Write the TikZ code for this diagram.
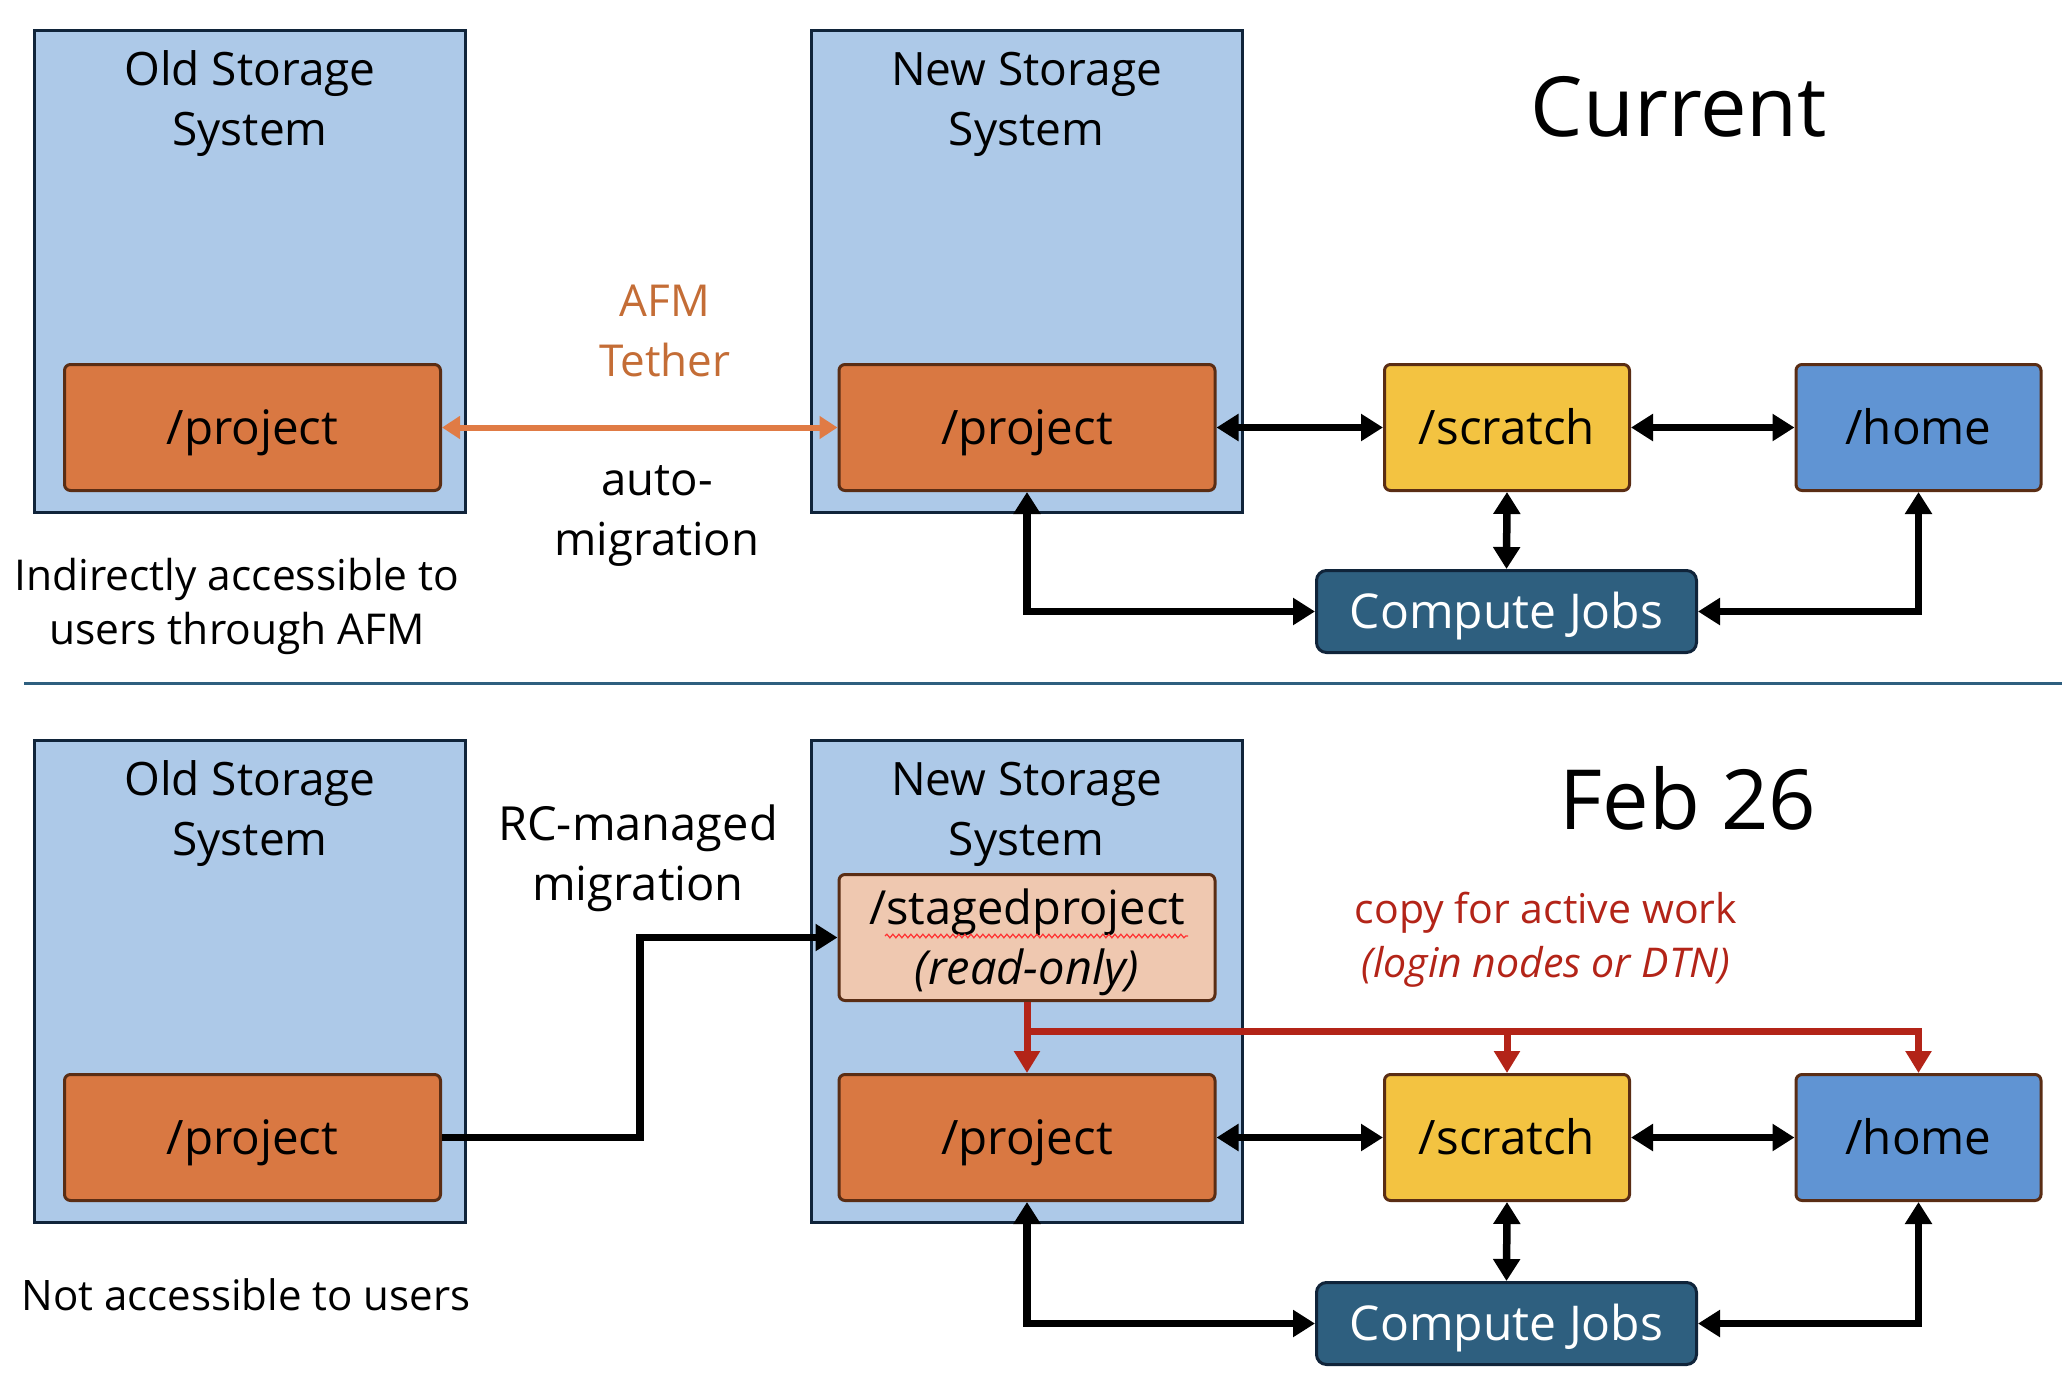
\documentclass[tikz,border=0pt]{standalone}
\usepackage{fontspec}
\setmainfont{Open Sans}
\usetikzlibrary{arrows.meta,decorations.pathmorphing}
\definecolor{sysfill}{HTML}{ADC9E8}
\definecolor{sysdraw}{HTML}{10243A}
\definecolor{projfill}{HTML}{D97842}
\definecolor{boxdraw}{HTML}{5A2D14}
\definecolor{scrfill}{HTML}{F3C341}
\definecolor{homefill}{HTML}{6094D3}
\definecolor{compfill}{HTML}{2E5F7F}
\definecolor{stagefill}{HTML}{EFC8B0}
\definecolor{afmorange}{HTML}{E07B45}
\definecolor{afmtext}{HTML}{C46D36}
\definecolor{redc}{HTML}{B32418}
\definecolor{sepc}{HTML}{2E5F7F}
\begin{document}
\begin{tikzpicture}[x=1pt,y=-1pt,
  sysbox/.style={draw=sysdraw, fill=sysfill, line width=3pt, minimum width=431pt, minimum height=482pt, inner sep=0pt},
  store/.style={draw=boxdraw, line width=3pt, rounded corners=6pt, minimum height=126pt, inner sep=0pt, text height=36pt, text depth=3pt, font=\fontsize{47.5}{56}\selectfont},
  compbox/.style={draw=sysdraw, fill=compfill, line width=3pt, rounded corners=10pt, minimum width=380pt, minimum height=82pt, inner sep=0pt, text=white, text height=36pt, text depth=3pt, font=\fontsize{48}{56}\selectfont},
  title/.style={align=center, font=\fontsize{46}{60}\selectfont, inner sep=0pt},
  lbl/.style={align=center, font=\fontsize{44}{60}\selectfont, inner sep=0pt},
  big/.style={font=\fontsize{83}{90}\selectfont, inner sep=0pt},
  blk/.style={line width=7.5pt, {Triangle[length=22pt,width=26pt]}-{Triangle[length=22pt,width=26pt]}},
  blkone/.style={line width=7.5pt, -{Triangle[length=22pt,width=26pt]}},
  orarrow/.style={draw=afmorange, line width=6pt, {Triangle[length=18pt,width=22pt]}-{Triangle[length=18pt,width=22pt]}},
  redarr/.style={draw=redc, line width=7pt, -{Triangle[length=22pt,width=25pt]}},
  redtext/.style={align=center, text=redc, font=\fontsize{41}{54}\selectfont, inner sep=0pt}
]
\useasboundingbox (0,0) rectangle (2062,1382);

% ---------------- Current ----------------
\node[sysbox] (oldsys) at (250,271.5) {};
\node[sysbox] (newsys) at (1026.5,271.5) {};
\node[title] (oldtitle) at (250,104) {Old Storage\\System};
\node[title] (newtitle) at (1026.5,104) {New Storage\\System};
\node[store, fill=projfill, minimum width=376pt] (oldproj) at (252.5,427.5) {/project};
\node[store, fill=projfill, minimum width=376pt] (newproj) at (1027,427.5) {/project};
\node[store, fill=scrfill, minimum width=245pt] (scratch) at (1507,427.5) {/scratch};
\node[store, fill=homefill, minimum width=245pt] (home) at (1918.5,427.5) {/home};
\node[compbox] (comp) at (1506.5,611.5) {Compute Jobs};
\node[big] (current) at (1679,107) {Current};
\node[lbl, text=afmtext] (afm) at (665,331) {AFM\\Tether};
\node[lbl, font=\fontsize{45.5}{60}\selectfont] (auto) at (657,516) {auto-\\migration};
\node[lbl, font=\fontsize{42.5}{54}\selectfont] (indir) at (237,606) {Indirectly accessible to\\users through AFM};

\draw[orarrow] (oldproj.east) -- (newproj.west);
\draw[blk] (newproj.east) -- (scratch.west);
\draw[blk] (scratch.east) -- (home.west);
\draw[blk] (scratch.south) -- (comp.north);
\draw[blk] (newproj.south) |- (comp.west);
\draw[blk] (home.south) |- (comp.east);

% separator
\draw[sepc, line width=3pt] (24,683) -- (2062,683);

% ---------------- Feb 26 ----------------
\node[sysbox] (oldsys2) at (250,981.5) {};
\node[sysbox] (newsys2) at (1026.5,981.5) {};
\node[title] (oldtitle2) at (250,814) {Old Storage\\System};
\node[title] (newtitle2) at (1026.5,814) {New Storage\\System};
\node[store, fill=projfill, minimum width=376pt] (oldproj2) at (252.5,1137.5) {/project};
\node[store, fill=stagefill, minimum width=376pt] (staged) at (1027,937.5) {};
\node[title, font=\fontsize{47}{60}\selectfont] (stagedtxt) at (1027,942) {/stagedproject\\\textit{(read-only)}};
\node[store, fill=projfill, minimum width=376pt] (newproj2) at (1027,1137.5) {/project};
\node[store, fill=scrfill, minimum width=245pt] (scratch2) at (1507,1137.5) {/scratch};
\node[store, fill=homefill, minimum width=245pt] (home2) at (1918.5,1137.5) {/home};
\node[compbox] (comp2) at (1506.5,1323.5) {Compute Jobs};
\node[big] (feb) at (1688,798) {Feb 26};
\node[lbl, font=\fontsize{47}{60}\selectfont] (rcm) at (638,858) {RC-managed\\migration};
\node[lbl, font=\fontsize{42}{54}\selectfont] (notacc) at (246,1295) {Not accessible to users};
\node[redtext] (copy) at (1546,940) {copy for active work\\\textit{(login nodes or DTN)}};

\coordinate (sqa) at (885,936);
\coordinate (sqb) at (1188,936);
\draw[red!80!white, line width=1.2pt, decorate, decoration={snake, amplitude=1.8pt, segment length=6pt}] (sqa) -- (sqb);

\draw[blkone] (oldproj2.east) -- ++(198,0) |- (staged.west);
\coordinate (rj) at (1027,1031);
\draw[redarr] (staged.south) -- (newproj2.north);
\draw[redarr] (rj) -| (home2.north);
\draw[redarr] (rj -| scratch2.north) -- (scratch2.north);

\draw[blk] (newproj2.east) -- (scratch2.west);
\draw[blk] (scratch2.east) -- (home2.west);
\draw[blk] (scratch2.south) -- (comp2.north);
\draw[blk] (newproj2.south) |- (comp2.west);
\draw[blk] (home2.south) |- (comp2.east);
\end{tikzpicture}
\end{document}
